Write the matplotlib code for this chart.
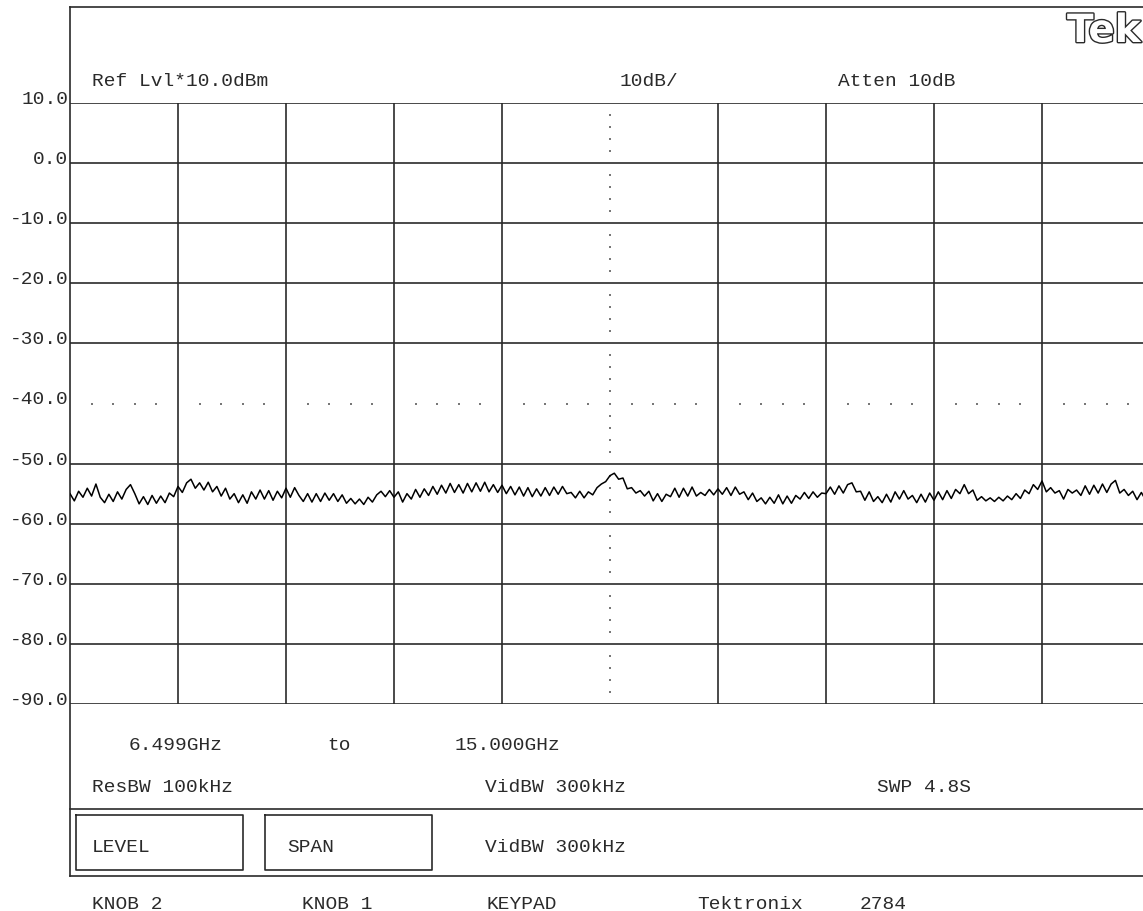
import matplotlib
matplotlib.use("Agg")
import matplotlib.pyplot as plt
import matplotlib.patheffects as pe
import numpy as np

W, H = 1143, 912

# sweep settings
freq_start = 6.499   # GHz
freq_stop = 15.000   # GHz
ref_level = 10.0     # dBm
db_per_div = 10.0
n_div = 10

# y tick labels (dBm)
levels = [10.0, 0.0, -10.0, -20.0, -30.0, -40.0, -50.0, -60.0, -70.0, -80.0, -90.0]

# trace, dBm, evenly spaced sweep points from freq_start to freq_stop (25 per division)
trace = [
    -55.0, -56.2, -54.6, -55.6, -54.1, -55.4, -53.4, -55.6, -56.5, -55.1, -56.3, -54.7, -55.9,
    -54.3, -53.5, -55.0, -56.7, -55.5, -56.8, -55.3, -56.6, -55.4, -56.5, -54.9, -55.5,
    -53.8, -54.8, -53.2, -52.6, -54.1, -53.2, -54.4, -53.1, -54.7, -53.8, -55.4, -54.1, -55.9,
    -55.0, -56.5, -55.2, -56.6, -54.7, -55.9, -54.4, -55.9, -54.5, -56.1, -54.6, -55.7,
    -54.1, -55.6, -54.0, -55.3, -56.3, -55.0, -56.4, -55.0, -56.3, -54.9, -56.1, -55.0, -56.3,
    -55.2, -56.6, -55.8, -56.7, -55.9, -56.8, -55.6, -56.4, -55.2, -54.6, -55.5, -54.5,
    -55.6, -54.7, -56.4, -55.0, -55.9, -54.3, -55.6, -54.2, -55.3, -53.8, -55.1, -53.6, -54.9,
    -53.3, -54.8, -53.5, -54.9, -53.3, -54.7, -53.2, -54.6, -53.1, -54.7, -53.5, -54.8,
    -53.6, -55.0, -53.8, -55.2, -53.9, -55.4, -54.0, -55.5, -54.2, -55.4, -54.0, -55.3, -53.9,
    -55.1, -53.8, -55.0, -54.8, -55.7, -54.6, -55.7, -54.7, -55.2, -54.0, -53.4, -53.0,
    -52.0, -51.6, -52.6, -52.4, -54.2, -54.0, -54.9, -54.5, -55.4, -54.6, -56.2, -55.0, -56.3,
    -55.1, -55.5, -54.1, -55.6, -54.1, -55.4, -53.9, -55.4, -54.8, -55.3, -54.3, -55.2,
    -54.2, -55.1, -54.0, -55.3, -53.9, -55.1, -54.7, -56.0, -54.9, -56.3, -55.7, -56.7, -55.6,
    -56.6, -55.2, -56.7, -55.4, -56.6, -55.3, -55.9, -54.8, -55.8, -54.7, -55.6, -54.9,
    -55.0, -53.9, -55.1, -53.7, -54.9, -53.5, -53.2, -54.7, -54.6, -56.1, -54.7, -56.3, -55.5,
    -56.5, -55.1, -56.4, -54.7, -55.9, -54.5, -55.9, -55.3, -56.5, -55.1, -56.4, -54.9,
    -56.1, -54.7, -56.0, -54.5, -55.8, -54.3, -55.0, -53.5, -55.0, -54.4, -56.1, -55.5, -56.2,
    -55.7, -56.3, -55.6, -56.2, -55.4, -56.0, -55.0, -55.8, -54.4, -55.0, -53.5, -54.3,
    -52.9, -54.7, -54.0, -54.9, -54.5, -55.9, -54.3, -54.9, -54.4, -55.3, -53.7, -55.1, -53.6,
    -54.9, -53.4, -54.8, -53.4, -52.8, -54.9, -54.3, -55.3, -54.6, -56.0, -54.8, -56.1, -55.0,
]

fig = plt.figure(figsize=(W / 100, H / 100), dpi=100)
fig.patch.set_facecolor("white")

# full-figure layer in pixel units for the frame, boxes and readouts
canvas = fig.add_axes([0, 0, 1, 1])
canvas.set_xlim(0, W)
canvas.set_ylim(H, 0)
canvas.axis("off")

# graticule area
ax = fig.add_axes([70 / W, (H - 705) / H, 1080 / W, 601 / H])
ax.set_xlim(freq_start, freq_stop)
ax.set_ylim(ref_level - n_div * db_per_div, ref_level)
ax.axis("off")

ink = "#2a2a2a"
font = ["Liberation Mono", "DejaVu Sans Mono"]
fs = 14

div_w = (freq_stop - freq_start) / n_div
center = freq_start + div_w * n_div / 2

for lv in levels:
    if lv != -40.0:
        ax.axhline(lv, color=ink, lw=1.2, zorder=1)
for k in range(1, n_div + 1):
    if k != n_div // 2:
        ax.axvline(freq_start + k * div_w, color=ink, lw=1.2, zorder=1)

# dotted centre lines
dx = [freq_start + i * div_w / 5 for i in range(1, n_div * 5) if i % 5 != 0 or i == 25]
ax.plot(dx, [-40.0] * len(dx), ls="none", marker="s", ms=1.7, mew=0, color="#777", zorder=1)
dy = [ref_level - j * db_per_div / 5 for j in range(1, n_div * 5) if j % 5 != 0]
ax.plot([center] * len(dy), dy, ls="none", marker="s", ms=1.7, mew=0, color="#777", zorder=1)

fx = np.linspace(freq_start, freq_stop, len(trace))
ax.plot(fx, trace, color="black", lw=1.1, zorder=3)

# y labels sit just above each graticule line
for lv in levels:
    ax.text(-0.0015, lv, "%.1f" % lv, transform=ax.get_yaxis_transform(),
            ha="right", va="baseline", fontsize=fs, family=font, color=ink)

# outer frame
canvas.plot([70, W], [8, 8], color=ink, lw=1.2)
canvas.plot([70, 70], [8, 877], color=ink, lw=1.2)
canvas.plot([70, W], [810, 810], color=ink, lw=1.2)
canvas.plot([70, W], [877, 877], color=ink, lw=1.2)

# soft-key boxes
for x0, x1 in [(76, 243), (265, 432)]:
    canvas.plot([x0, x1, x1, x0, x0], [816, 816, 871, 871, 816], color=ink, lw=1.2)

readouts = [
    (92, 86, "Ref Lvl*10.0dBm"), (620, 86, "10dB/"), (838, 86, "Atten 10dB"),
    (129, 750, "6.499GHz"), (327, 750, "to"), (455, 750, "15.000GHz"),
    (92, 792, "ResBW 100kHz"), (485, 792, "VidBW 300kHz"), (877, 792, "SWP 4.8S"),
    (92, 852, "LEVEL"), (287, 852, "SPAN"), (485, 852, "VidBW 300kHz"),
    (92, 909, "KNOB 2"), (302, 909, "KNOB 1"), (487, 909, "KEYPAD"),
    (697, 909, "Tektronix"), (860, 909, "2784"),
]
for x, y, s in readouts:
    canvas.text(x, y, s, ha="left", va="baseline", fontsize=fs, family=font, color=ink)

tek = canvas.text(1067, 43, "Tek", ha="left", va="baseline", fontsize=28,
                  fontweight="bold", family="DejaVu Sans", color="white")
tek.set_path_effects([pe.withStroke(linewidth=2.0, foreground=ink)])

fig.savefig("out.png", dpi=100)
